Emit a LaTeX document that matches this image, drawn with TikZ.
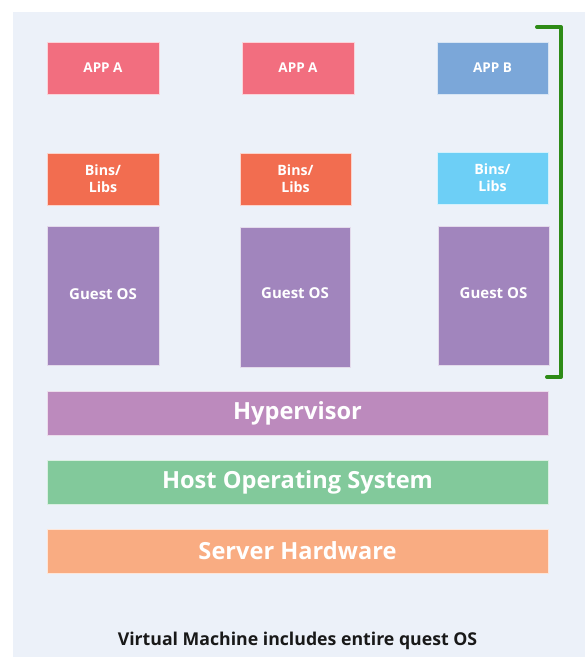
\documentclass[tikz,border=0pt]{standalone}
\usepackage{fontspec}
\setmainfont{Open Sans}
\definecolor{bgc}{HTML}{ECF1F9}
\definecolor{appa}{HTML}{F26E7F}
\definecolor{appb}{HTML}{7BA7D9}
\definecolor{binsa}{HTML}{F26D50}
\definecolor{binsb}{HTML}{6DCFF6}
\definecolor{guest}{HTML}{A185BD}
\definecolor{hyper}{HTML}{BC8ABD}
\definecolor{hostos}{HTML}{82C99B}
\definecolor{hw}{HTML}{F9AC82}
\definecolor{brk}{HTML}{2E8B17}
\tikzset{
  layer/.style={draw=white!70!#1, line width=0.6pt, fill=#1, text=white, font=\bfseries, inner sep=0pt, align=center},
  appbox/.style={layer=#1, font=\bfseries\fontsize{13.5}{16}\selectfont},
  binbox/.style={layer=#1, font=\bfseries\fontsize{14.2}{17}\selectfont},
  osbox/.style={layer=#1, font=\bfseries\fontsize{15}{18}\selectfont},
  bigbox/.style={layer=#1, font=\bfseries\fontsize{23.6}{26}\selectfont, minimum width=501pt, minimum height=44pt},
}
\begin{document}
\begin{tikzpicture}[x=1pt,y=-1pt]
\useasboundingbox (0,0) rectangle (585,657);
\fill[white] (0,0) rectangle (585,657);
\fill[bgc] (13,12) rectangle (585,657);
% apps
\node[appbox=appa, minimum width=112pt, minimum height=52pt] (appa1) at (103,68) {APP A};
\node[appbox=appa, minimum width=112pt, minimum height=52pt] (appa2) at (298,68) {APP A};
\node[appbox=appb, minimum width=111pt, minimum height=52pt] (appb) at (492.5,68) {APP B};
% bins
\node[binbox=binsa, minimum width=112pt, minimum height=52pt] (bins1) at (103,179) {Bins/\\Libs};
\node[binbox=binsa, minimum width=111pt, minimum height=52pt] (bins2) at (295.5,179) {Bins/\\Libs};
\node[binbox=binsb, minimum width=111pt, minimum height=52pt] (bins3) at (492.5,178) {Bins/\\Libs};
% guest os
\node[osbox=guest, minimum width=112pt, minimum height=139pt] (g1) at (103,295.5) {\raisebox{3pt}{Guest OS}};
\node[osbox=guest, minimum width=110pt, minimum height=140pt] (g2) at (295,297) {\raisebox{7pt}{Guest OS}};
\node[osbox=guest, minimum width=111pt, minimum height=139pt] (g3) at (493.5,295.5) {\raisebox{5pt}{Guest OS}};
% layers
\node[bigbox=hyper] (hyp) at (297.5,413) {\raisebox{1pt}{Hypervisor}};
\node[bigbox=hostos] (host) at (297.5,482) {Host Operating System};
\node[bigbox=hw] (hw) at (297.5,551) {Server Hardware};
% bracket
\coordinate (bt1) at (537,27);
\coordinate (bt2) at (561,27);
\coordinate (bb2) at (561,377);
\coordinate (bb1) at (547,377);
\draw[brk, line width=4pt, line cap=round, line join=round] (bt1) -- (bt2) -- (bb2) -- (bb1);
% caption
\node[font=\bfseries\fontsize{17.7}{20}\selectfont, text=black!90] (cap) at (297.5,641) {Virtual Machine includes entire quest OS};
\end{tikzpicture}
\end{document}
